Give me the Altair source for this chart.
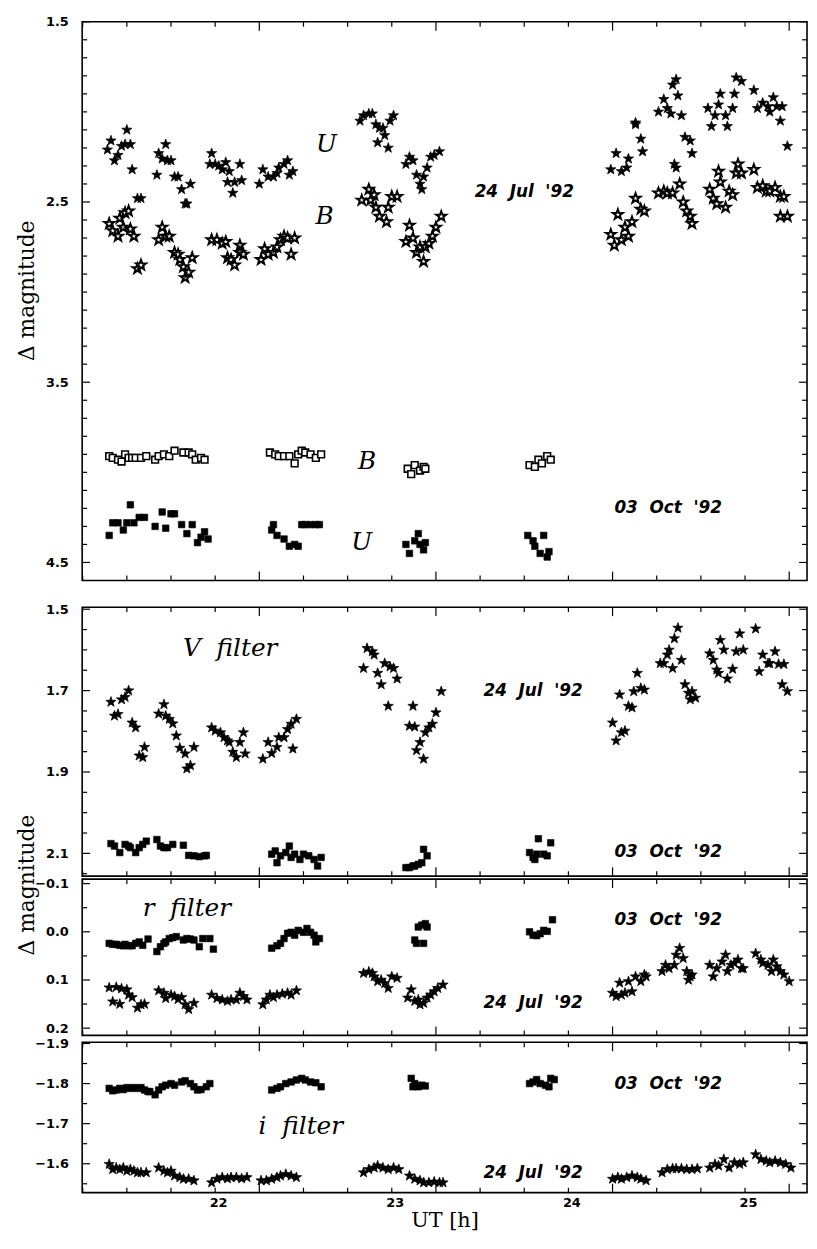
import altair as alt
import pandas as pd

# ---------------------------------------------------------------- data
# Panel 1: U and B filters.  Stars = 24 Jul '92, squares = 03 Oct '92
u_jul_h = [21.39, 21.41, 21.43, 21.45, 21.47, 21.49, 21.50, 21.52, 21.53, 21.56, 21.58,
           21.67, 21.68, 21.70, 21.72, 21.73, 21.75, 21.77, 21.79, 21.81, 21.83, 21.84, 21.86,
           21.98, 21.97, 22.00, 22.02, 22.04, 22.06, 22.07, 22.08, 22.10, 22.11, 22.14, 22.15,
           22.25, 22.27, 22.30, 22.33, 22.35, 22.36, 22.39, 22.41, 22.42, 22.44,
           22.82, 22.84, 22.87, 22.89, 22.91, 22.93, 22.95, 22.96, 22.92, 22.98, 23.01, 22.99,
           23.08, 23.10, 23.12, 23.14, 23.16, 23.17, 23.18, 23.20, 23.22, 23.24, 23.27,
           24.24, 24.27, 24.30, 24.33, 24.34, 24.38, 24.41, 24.42, 24.38,
           24.51, 24.54, 24.56, 24.58, 24.59, 24.61, 24.62, 24.64, 24.66, 24.69, 24.70, 24.61, 24.60,
           24.79, 24.81, 24.83, 24.85, 24.86, 24.89, 24.90, 24.93, 24.94, 24.95, 24.98, 25.05,
           25.07, 25.10, 25.13, 25.14, 25.16, 25.18, 25.21, 25.20, 25.24]
u_jul_m = [2.21, 2.16, 2.27, 2.24, 2.19, 2.18, 2.10, 2.18, 2.32, 2.48, 2.48,
           2.35, 2.23, 2.26, 2.18, 2.27, 2.27, 2.36, 2.36, 2.43, 2.51, 2.51, 2.40,
           2.23, 2.29, 2.29, 2.30, 2.32, 2.28, 2.39, 2.33, 2.45, 2.39, 2.29, 2.38,
           2.40, 2.32, 2.36, 2.36, 2.34, 2.31, 2.29, 2.27, 2.35, 2.33,
           2.05, 2.02, 2.01, 2.01, 2.07, 2.09, 2.09, 2.13, 2.17, 2.20, 2.02, 2.05,
           2.29, 2.25, 2.27, 2.35, 2.40, 2.43, 2.36, 2.31, 2.25, 2.24, 2.22,
           2.32, 2.23, 2.33, 2.31, 2.26, 2.07, 2.15, 2.22, 2.06,
           2.00, 1.93, 1.98, 2.01, 1.85, 1.82, 1.91, 2.02, 2.14, 2.16, 2.23, 2.31, 2.29,
           1.98, 2.08, 2.02, 1.96, 1.90, 2.02, 2.08, 1.98, 1.90, 1.81, 1.83, 1.88,
           1.98, 1.95, 1.97, 2.00, 1.92, 1.97, 1.97, 2.05, 2.19]

b_jul_h = [21.40, 21.42, 21.45, 21.46, 21.48, 21.49, 21.51, 21.52, 21.54, 21.56, 21.58,
           21.68, 21.70, 21.72, 21.74, 21.77, 21.79, 21.80, 21.82, 21.83, 21.85, 21.87,
           21.98, 22.01, 22.04, 22.06, 22.07, 22.09, 22.11, 22.14, 22.14, 22.16,
           22.26, 22.28, 22.30, 22.33, 22.35, 22.37, 22.39, 22.41, 22.43, 22.45,
           22.83, 22.87, 22.90, 22.91, 22.93, 22.97, 22.98, 23.00, 23.03, 22.88,
           23.08, 23.10, 23.12, 23.14, 23.16, 23.18, 23.19, 23.21, 23.23, 23.25, 23.28,
           24.24, 24.26, 24.28, 24.30, 24.32, 24.34, 24.36, 24.38, 24.41, 24.43,
           24.51, 24.54, 24.56, 24.59, 24.63, 24.65, 24.67, 24.69, 24.70,
           24.80, 24.82, 24.84, 24.85, 24.86, 24.89, 24.91, 24.93, 24.95, 24.96, 24.98, 25.05,
           25.07, 25.10, 25.12, 25.14, 25.17, 25.20, 25.22, 25.20, 25.24]
b_jul_m = [2.62, 2.66, 2.69, 2.59, 2.64, 2.56, 2.55, 2.65, 2.69, 2.87, 2.85,
           2.71, 2.64, 2.69, 2.69, 2.78, 2.79, 2.82, 2.86, 2.92, 2.89, 2.81,
           2.71, 2.71, 2.73, 2.72, 2.81, 2.82, 2.85, 2.74, 2.78, 2.79,
           2.82, 2.76, 2.79, 2.78, 2.75, 2.71, 2.69, 2.70, 2.79, 2.70,
           2.49, 2.43, 2.46, 2.53, 2.58, 2.61, 2.53, 2.47, 2.47, 2.49,
           2.72, 2.63, 2.70, 2.78, 2.75, 2.83, 2.75, 2.73, 2.69, 2.64, 2.58,
           2.68, 2.74, 2.57, 2.71, 2.64, 2.69, 2.61, 2.48, 2.54, 2.55,
           2.45, 2.44, 2.45, 2.45, 2.40, 2.50, 2.55, 2.58, 2.62,
           2.43, 2.48, 2.51, 2.33, 2.39, 2.53, 2.44, 2.46, 2.34, 2.29, 2.34, 2.32,
           2.42, 2.41, 2.44, 2.44, 2.42, 2.47, 2.47, 2.58, 2.58]

b_oct_h = [21.40, 21.42, 21.45, 21.47, 21.49, 21.51, 21.53, 21.55, 21.58, 21.61, 21.66,
           21.68, 21.71, 21.74, 21.77, 21.82, 21.85, 21.87, 21.89, 21.92, 21.94,
           22.31, 22.34, 22.36, 22.39, 22.42, 22.45, 22.47, 22.49, 22.51, 22.54, 22.57, 22.60,
           23.09, 23.11, 23.13, 23.16, 23.18, 23.19,
           23.78, 23.81, 23.83, 23.85, 23.88, 23.90]
b_oct_m = [3.91, 3.92, 3.93, 3.94, 3.90, 3.92, 3.92, 3.92, 3.92, 3.91, 3.93,
           3.91, 3.90, 3.91, 3.88, 3.89, 3.89, 3.90, 3.93, 3.92, 3.93,
           3.89, 3.90, 3.91, 3.91, 3.91, 3.95, 3.90, 3.88, 3.89, 3.90, 3.92, 3.90,
           3.98, 4.01, 3.96, 3.99, 3.97, 3.98,
           3.96, 3.97, 3.93, 3.95, 3.91, 3.93]

u_oct_h = [21.40, 21.42, 21.45, 21.48, 21.50, 21.52, 21.54, 21.57, 21.60, 21.66, 21.70,
           21.72, 21.75, 21.77, 21.81, 21.84, 21.87, 21.90, 21.92, 21.94, 21.96,
           22.32, 22.33, 22.35, 22.39, 22.42, 22.45, 22.47, 22.49, 22.51, 22.54, 22.57, 22.59,
           23.08, 23.10, 23.13, 23.15, 23.16, 23.18, 23.19,
           23.77, 23.80, 23.81, 23.84, 23.86, 23.88, 23.89]
u_oct_m = [4.35, 4.28, 4.28, 4.32, 4.28, 4.18, 4.28, 4.25, 4.25, 4.30, 4.22,
           4.31, 4.23, 4.23, 4.29, 4.34, 4.29, 4.39, 4.36, 4.33, 4.37,
           4.32, 4.29, 4.35, 4.37, 4.41, 4.40, 4.41, 4.29, 4.29, 4.29, 4.29, 4.29,
           4.40, 4.45, 4.38, 4.34, 4.40, 4.43, 4.39,
           4.35, 4.38, 4.41, 4.45, 4.35, 4.47, 4.44]

# Panel 2: V filter
v_jul_h = [21.41, 21.43, 21.45, 21.47, 21.49, 21.51, 21.53, 21.55, 21.57, 21.59, 21.60,
           21.68, 21.71, 21.72, 21.74, 21.76, 21.78, 21.80, 21.83, 21.84, 21.86, 21.88,
           21.98, 22.00, 22.03, 22.05, 22.07, 22.08, 22.10, 22.12, 22.14, 22.16, 22.17,
           22.27, 22.30, 22.32, 22.35, 22.36, 22.39, 22.41, 22.43, 22.44, 22.46,
           22.84, 22.86, 22.89, 22.90, 22.92, 22.94, 22.96, 22.98, 22.99, 23.01, 23.03,
           23.10, 23.12, 23.13, 23.14, 23.16, 23.18, 23.19, 23.21, 23.23, 23.25, 23.28,
           24.25, 24.27, 24.29, 24.30, 24.32, 24.34, 24.36, 24.37, 24.39, 24.41, 24.43,
           24.52, 24.54, 24.56, 24.57, 24.59, 24.60, 24.62, 24.64, 24.66, 24.68, 24.70, 24.72, 24.69,
           24.80, 24.82, 24.84, 24.85, 24.86, 24.88, 24.90, 24.93, 24.95, 24.97, 24.99, 25.06,
           25.08, 25.10, 25.13, 25.14, 25.17, 25.19, 25.22, 25.21, 25.24]
v_jul_m = [1.728, 1.762, 1.758, 1.722, 1.716, 1.700, 1.779, 1.791, 1.860, 1.864, 1.839,
           1.757, 1.734, 1.762, 1.770, 1.781, 1.811, 1.841, 1.855, 1.892, 1.884, 1.839,
           1.791, 1.799, 1.803, 1.815, 1.823, 1.827, 1.851, 1.864, 1.827, 1.803, 1.855,
           1.868, 1.827, 1.854, 1.839, 1.815, 1.815, 1.795, 1.782, 1.843, 1.770,
           1.645, 1.596, 1.604, 1.612, 1.657, 1.685, 1.633, 1.738, 1.641, 1.645, 1.671,
           1.787, 1.738, 1.789, 1.847, 1.827, 1.868, 1.803, 1.791, 1.782, 1.754, 1.702,
           1.779, 1.823, 1.710, 1.803, 1.799, 1.738, 1.742, 1.702, 1.657, 1.694, 1.698,
           1.633, 1.633, 1.612, 1.600, 1.645, 1.572, 1.546, 1.625, 1.685, 1.706, 1.702, 1.718, 1.722,
           1.609, 1.625, 1.649, 1.657, 1.576, 1.600, 1.671, 1.647, 1.604, 1.560, 1.600, 1.548,
           1.653, 1.612, 1.633, 1.633, 1.604, 1.635, 1.635, 1.685, 1.702]

v_oct_h = [21.41, 21.43, 21.46, 21.49, 21.51, 21.52, 21.55, 21.57, 21.59, 21.61, 21.67,
           21.69, 21.71, 21.73, 21.76, 21.82, 21.85, 21.88, 21.91, 21.94, 21.95,
           22.32, 22.34, 22.35, 22.37, 22.40, 22.42, 22.43, 22.45, 22.48, 22.50, 22.53, 22.56, 22.58, 22.60,
           23.08, 23.10, 23.13, 23.15, 23.17, 23.18, 23.20, 23.12,
           23.78, 23.80, 23.82, 23.83, 23.86, 23.88, 23.90, 23.81]
v_oct_m = [2.076, 2.082, 2.098, 2.078, 2.082, 2.086, 2.098, 2.086, 2.078, 2.070, 2.066,
           2.082, 2.086, 2.086, 2.078, 2.080, 2.105, 2.106, 2.108, 2.106, 2.105,
           2.102, 2.094, 2.123, 2.106, 2.098, 2.082, 2.110, 2.102, 2.115, 2.102, 2.106, 2.115, 2.131, 2.110,
           2.135, 2.135, 2.131, 2.127, 2.123, 2.090, 2.106, 2.131,
           2.098, 2.110, 2.102, 2.064, 2.102, 2.106, 2.074, 2.115]

# Panel 3: r filter
r_oct_h = [21.40, 21.42, 21.44, 21.46, 21.48, 21.49, 21.51, 21.53, 21.55, 21.57, 21.59, 21.62,
           21.67, 21.69, 21.71, 21.72, 21.74, 21.76, 21.78, 21.82, 21.84, 21.86, 21.88, 21.91, 21.93, 21.97, 21.99,
           22.32, 22.35, 22.37, 22.39, 22.41, 22.43, 22.45, 22.47, 22.50, 22.52, 22.54, 22.56, 22.57, 22.59,
           23.13, 23.14, 23.18, 23.15, 23.17, 23.19, 23.20,
           23.78, 23.80, 23.82, 23.84, 23.86, 23.88, 23.91]
r_oct_m = [0.024, 0.026, 0.026, 0.028, 0.029, 0.026, 0.029, 0.029, 0.024, 0.021, 0.028, 0.015,
           0.041, 0.031, 0.024, 0.021, 0.014, 0.012, 0.010, 0.017, 0.014, 0.015, 0.017, 0.031, 0.014, 0.014, 0.036,
           0.034, 0.029, 0.024, 0.014, 0.003, 0.001, 0.007, -0.003, 0.001, -0.007, 0.001, 0.007, 0.021, 0.014,
           0.017, 0.024, 0.024, -0.010, -0.014, -0.017, -0.010,
           0.000, 0.007, 0.008, 0.004, -0.003, -0.001, -0.025]

r_jul_h = [21.40, 21.42, 21.44, 21.46, 21.47, 21.50, 21.51, 21.53, 21.56, 21.58, 21.60,
           21.68, 21.71, 21.72, 21.75, 21.77, 21.79, 21.81, 21.83, 21.85, 21.88,
           21.98, 22.01, 22.04, 22.07, 22.09, 22.12, 22.14, 22.16, 22.18,
           22.27, 22.29, 22.31, 22.33, 22.35, 22.38, 22.41, 22.43, 22.46,
           22.84, 22.87, 22.89, 22.90, 22.92, 22.94, 22.96, 22.98, 23.00, 23.03,
           23.09, 23.11, 23.13, 23.15, 23.16, 23.18, 23.20, 23.22, 23.24, 23.26, 23.29,
           24.25, 24.27, 24.29, 24.30, 24.32, 24.34, 24.36, 24.38, 24.41, 24.43, 24.44,
           24.53, 24.55, 24.57, 24.60, 24.61, 24.63, 24.65, 24.67, 24.69, 24.70, 24.68,
           24.80, 24.82, 24.84, 24.87, 24.89, 24.90, 24.92, 24.94, 24.96, 24.98, 24.99,
           25.06, 25.09, 25.10, 25.13, 25.15, 25.16, 25.18, 25.20, 25.22, 25.25]
r_jul_m = [0.116, 0.145, 0.115, 0.150, 0.118, 0.120, 0.131, 0.136, 0.158, 0.151, 0.150,
           0.122, 0.127, 0.138, 0.131, 0.134, 0.140, 0.136, 0.151, 0.161, 0.148,
           0.131, 0.138, 0.141, 0.144, 0.141, 0.141, 0.127, 0.134, 0.141,
           0.151, 0.141, 0.131, 0.136, 0.131, 0.129, 0.127, 0.131, 0.122,
           0.086, 0.083, 0.086, 0.093, 0.103, 0.100, 0.107, 0.117, 0.093, 0.096,
           0.137, 0.120, 0.144, 0.141, 0.151, 0.148, 0.137, 0.131, 0.124, 0.117, 0.110,
           0.127, 0.134, 0.106, 0.131, 0.127, 0.103, 0.124, 0.093, 0.103, 0.089, 0.093,
           0.082, 0.069, 0.076, 0.069, 0.048, 0.034, 0.055, 0.082, 0.093, 0.089, 0.100,
           0.069, 0.093, 0.076, 0.062, 0.048, 0.082, 0.069, 0.065, 0.058, 0.076, 0.076,
           0.045, 0.058, 0.065, 0.069, 0.082, 0.058, 0.072, 0.082, 0.089, 0.103]

# Panel 4: i filter
i_oct_h = [21.40, 21.42, 21.44, 21.46, 21.48, 21.50, 21.52, 21.54, 21.56, 21.58, 21.60, 21.62, 21.63,
           21.66, 21.68, 21.70, 21.72, 21.75, 21.77, 21.81, 21.83, 21.86, 21.88, 21.90, 21.92, 21.95, 21.97,
           22.32, 22.35, 22.37, 22.40, 22.43, 22.46, 22.49, 22.51, 22.54, 22.57, 22.60,
           23.11, 23.13, 23.15, 23.17, 23.19, 23.12,
           23.78, 23.80, 23.82, 23.84, 23.87, 23.89, 23.90, 23.92]
i_oct_m = [-1.788, -1.782, -1.784, -1.788, -1.785, -1.790, -1.788, -1.790, -1.788, -1.790, -1.784, -1.780, -1.780,
           -1.772, -1.784, -1.792, -1.796, -1.800, -1.796, -1.804, -1.807, -1.800, -1.792, -1.784, -1.785, -1.792, -1.800,
           -1.784, -1.788, -1.792, -1.800, -1.804, -1.809, -1.813, -1.809, -1.804, -1.802, -1.792,
           -1.813, -1.800, -1.792, -1.796, -1.794, -1.792,
           -1.800, -1.804, -1.810, -1.800, -1.796, -1.792, -1.813, -1.810]

i_jul_h = [21.40, 21.42, 21.44, 21.46, 21.48, 21.50, 21.52, 21.54, 21.56, 21.58, 21.61,
           21.68, 21.71, 21.73, 21.75, 21.77, 21.80, 21.82, 21.85, 21.88,
           21.98, 22.01, 22.04, 22.07, 22.09, 22.12, 22.15, 22.18,
           22.26, 22.29, 22.32, 22.35, 22.37, 22.40, 22.43, 22.46,
           22.84, 22.87, 22.90, 22.92, 22.95, 22.98, 23.01, 23.04,
           23.10, 23.13, 23.16, 23.18, 23.21, 23.24, 23.27, 23.29,
           24.25, 24.28, 24.30, 24.33, 24.36, 24.39, 24.41, 24.44,
           24.53, 24.56, 24.59, 24.61, 24.64, 24.67, 24.70, 24.73,
           24.80, 24.83, 24.85, 24.88, 24.91, 24.94, 24.97, 24.99,
           25.06, 25.09, 25.12, 25.14, 25.17, 25.20, 25.23, 25.26]
i_jul_m = [-1.599, -1.586, -1.590, -1.586, -1.590, -1.582, -1.586, -1.582, -1.578, -1.578, -1.578,
           -1.590, -1.582, -1.578, -1.582, -1.570, -1.566, -1.562, -1.562, -1.558,
           -1.553, -1.562, -1.566, -1.563, -1.566, -1.566, -1.563, -1.566,
           -1.558, -1.558, -1.562, -1.566, -1.570, -1.574, -1.570, -1.566,
           -1.578, -1.586, -1.590, -1.595, -1.590, -1.586, -1.590, -1.586,
           -1.570, -1.562, -1.558, -1.553, -1.553, -1.555, -1.553, -1.553,
           -1.562, -1.566, -1.562, -1.566, -1.570, -1.566, -1.562, -1.558,
           -1.578, -1.586, -1.588, -1.588, -1.588, -1.586, -1.586, -1.588,
           -1.590, -1.599, -1.595, -1.611, -1.590, -1.603, -1.599, -1.603,
           -1.623, -1.611, -1.607, -1.603, -1.607, -1.603, -1.599, -1.590]

# Annotations (text, hour, value)
p1_letters = [("U", 22.63, 2.176), ("B", 22.62, 2.577), ("B", 22.86, 3.94), ("U", 22.83, 4.385)]
p1_dates = [("24\u00a0\u00a0Jul\u00a0\u00a0'92", 23.75, 2.445), ("03\u00a0\u00a0Oct\u00a0\u00a0'92", 24.565, 4.20)]
p2_letters = [("V\u00a0\u00a0filter", 22.085, 1.596)]
p2_dates = [("24\u00a0\u00a0Jul\u00a0\u00a0'92", 23.80, 1.70), ("03\u00a0\u00a0Oct\u00a0\u00a0'92", 24.565, 2.098)]
p3_letters = [("r\u00a0\u00a0filter", 21.84, -0.049)]
p3_dates = [("03\u00a0\u00a0Oct\u00a0\u00a0'92", 24.565, -0.024), ("24\u00a0\u00a0Jul\u00a0\u00a0'92", 23.80, 0.147)]
p4_letters = [("i\u00a0\u00a0filter", 22.485, -1.693)]
p4_dates = [("03\u00a0\u00a0Oct\u00a0\u00a0'92", 24.565, -1.798), ("24\u00a0\u00a0Jul\u00a0\u00a0'92", 23.80, -1.578)]

# Axis ticks / labels
x_labels = [22, 23, 24, 25]
x_ticks_short = [21.25, 21.5, 21.75, 22.0, 22.5, 22.75, 23.0, 23.5, 23.75, 24.0, 24.5, 24.75, 25.0]
x_ticks_long = [22.25, 23.25, 24.25, 25.25]

p1_ylabels = [1.5, 2.5, 3.5, 4.5]
p1_yminor = [round(1.5 + 0.1 * k, 2) for k in range(1, 31) if k % 10]
p2_ylabels = [1.5, 1.7, 1.9, 2.1]
p2_yminor = [1.55, 1.6, 1.65, 1.75, 1.8, 1.85, 1.95, 2.0, 2.05, 2.15]
p3_ylabels = [-0.1, 0.0, 0.1, 0.2]
p3_yminor = [-0.05, 0.05, 0.15]
p4_ylabels = [-1.9, -1.8, -1.7, -1.6]
p4_yminor = [-1.85, -1.75, -1.65, -1.55]

# ---------------------------------------------------------------- style
W = 733
XDOM = [21.247, 25.351]
STAR = ("M0,-1L0.235,-0.324L0.951,-0.309L0.38,0.124L0.588,0.809L0,0.4"
        "L-0.588,0.809L-0.38,0.124L-0.951,-0.309L-0.235,-0.324Z")
LABEL_FONT = "DejaVu Sans"
SERIF = "DejaVu Serif"


def make_panel(H, ydom, ylabels, yminor, series, letters, dates, bottom=False, ytitle_y=None):
    xs = alt.Scale(domain=XDOM, nice=False, zero=False)
    ys = alt.Scale(domain=ydom, nice=False, zero=False, reverse=True)
    yaxis = alt.Axis(values=ylabels, format=".1f", ticks=False, domain=False, grid=False,
                     title=None, labelFont=LABEL_FONT, labelFontWeight="bold",
                     labelFontSize=13, labelPadding=14, labelColor="black")
    if bottom:
        xaxis = alt.Axis(values=x_labels, format="d", ticks=False, domain=False, grid=False,
                         title="UT [h]", labelFont=LABEL_FONT, labelFontWeight="bold",
                         labelFontSize=13, labelPadding=4, labelColor="black", labelOffset=3,
                         titleFont=SERIF, titleFontSize=21, titleFontWeight="normal",
                         titlePadding=0, titleColor="black")
    else:
        xaxis = None
    X = alt.X("h:Q", scale=xs, axis=xaxis)
    Y = alt.Y("v:Q", scale=ys, axis=yaxis)

    layers = []
    styles = {
        "star": dict(shape=STAR, fill="black", stroke="black", strokeWidth=0.7, size=120),
        "ostar": dict(shape=STAR, fill="white", stroke="black", strokeWidth=2.0, size=112),
        "sq": dict(shape="square", fill="black", stroke="black", strokeWidth=0.6, size=44),
        "osq": dict(shape="square", fill="white", stroke="black", strokeWidth=1.6, size=46),
    }
    for h, v, kind in series:
        assert len(h) == len(v), (kind, len(h), len(v))
        df = pd.DataFrame({"h": h, "v": v})
        layers.append(alt.Chart(df).mark_point(filled=True, opacity=1, **styles[kind])
                      .encode(x=X, y=Y))

    # inward ticks on all four sides
    ymaj = pd.DataFrame({"v": ylabels})
    ymin = pd.DataFrame({"v": yminor})
    for df, ln in ((ymaj, 8), (ymin, 5)):
        layers.append(alt.Chart(df).mark_rule(color="black", strokeWidth=1.2)
                      .encode(y=Y, x=alt.value(0), x2=alt.value(ln)))
        layers.append(alt.Chart(df).mark_rule(color="black", strokeWidth=1.2)
                      .encode(y=Y, x=alt.value(W), x2=alt.value(W - ln)))
    xlong = pd.DataFrame({"h": x_ticks_long})
    xshort = pd.DataFrame({"h": x_ticks_short})
    for df, ln in ((xlong, 9), (xshort, 5)):
        layers.append(alt.Chart(df).mark_rule(color="black", strokeWidth=1.2)
                      .encode(x=X, y=alt.value(0), y2=alt.value(ln)))
        layers.append(alt.Chart(df).mark_rule(color="black", strokeWidth=1.2)
                      .encode(x=X, y=alt.value(H), y2=alt.value(H - ln)))

    # annotations
    ldf = pd.DataFrame(letters, columns=["t", "h", "v"])
    layers.append(alt.Chart(ldf).mark_text(font=SERIF, fontStyle="italic", fontSize=25,
                                           color="black", align="center", baseline="middle")
                  .encode(x=X, y=Y, text="t:N"))
    ddf = pd.DataFrame(dates, columns=["t", "h", "v"])
    layers.append(alt.Chart(ddf).mark_text(font=LABEL_FONT, fontStyle="italic", fontWeight="bold",
                                           fontSize=17, color="black", align="center",
                                           baseline="middle")
                  .encode(x=X, y=Y, text="t:N"))
    if ytitle_y is not None:
        tdf = pd.DataFrame({"t": ["Δ magnitude"]})
        layers.append(alt.Chart(tdf).mark_text(font=SERIF, fontSize=22, angle=270, color="black",
                                               align="center", baseline="middle")
                      .encode(x=alt.value(-56), y=alt.value(ytitle_y), text="t:N"))
    return alt.layer(*layers).properties(width=W, height=H)


def spacer(H):
    return (alt.Chart(pd.DataFrame({"a": [0]})).mark_point(opacity=0)
            .encode(x=alt.value(0), y=alt.value(0))
            .properties(width=W, height=H, view=alt.ViewBackground(stroke="transparent")))


p1 = make_panel(565, [1.5, 4.6], p1_ylabels, p1_yminor,
                [(u_jul_h, u_jul_m, "star"), (b_jul_h, b_jul_m, "ostar"),
                 (b_oct_h, b_oct_m, "osq"), (u_oct_h, u_oct_m, "sq")],
                p1_letters, p1_dates, ytitle_y=272)
p2 = make_panel(272, [1.495, 2.156], p2_ylabels, p2_yminor,
                [(v_jul_h, v_jul_m, "star"), (v_oct_h, v_oct_m, "sq")],
                p2_letters, p2_dates)
p3 = make_panel(158, [-0.1094, 0.215], p3_ylabels, p3_yminor,
                [(r_oct_h, r_oct_m, "sq"), (r_jul_h, r_jul_m, "star")],
                p3_letters, p3_dates, ytitle_y=6)
p4 = make_panel(152, [-1.903, -1.528], p4_ylabels, p4_yminor,
                [(i_oct_h, i_oct_m, "sq"), (i_jul_h, i_jul_m, "star")],
                p4_letters, p4_dates, bottom=True)

chart = (alt.vconcat(p1, spacer(27), p2, spacer(3), p3, spacer(7), p4, spacing=0, bounds="flush")
         .properties(padding={"left": 7, "top": 0, "right": 0, "bottom": 0}, background="white")
         .configure_view(stroke="black", strokeWidth=1.6))

chart.save("out.html", embed_options={"renderer": "svg", "actions": False})
